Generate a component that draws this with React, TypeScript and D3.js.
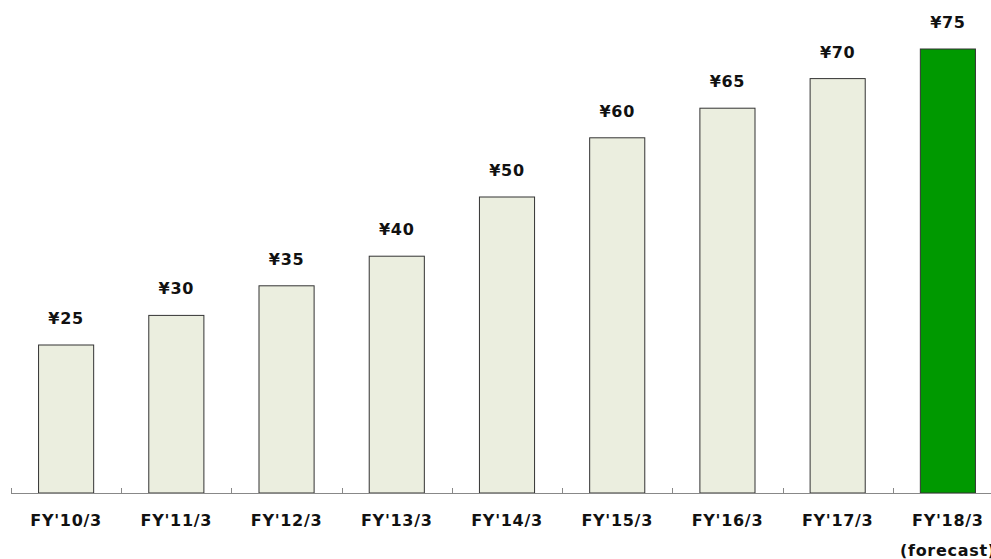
import React from "react";
import * as d3 from "d3";

const categories = ["FY'10/3", "FY'11/3", "FY'12/3", "FY'13/3", "FY'14/3", "FY'15/3", "FY'16/3", "FY'17/3", "FY'18/3"];
const dividends = [25, 30, 35, 40, 50, 60, 65, 70, 75];
const forecastFlags = [false, false, false, false, false, false, false, false, true];

const W = 991;
const H = 559;
const FONT = "'DejaVu Sans', Verdana, sans-serif";

export default function App() {
  const baseY = 493;
  const x = d3.scaleBand<string>().domain(categories).range([11, 1003]).paddingInner(0.5).paddingOuter(0.25);
  const step = x.step();
  const y = d3.scaleLinear().domain([0, 75]).range([baseY, 49]);
  const tickXs = categories.map((c) => x(c)! + x.bandwidth() / 2 - step / 2);

  const textProps = {
    textAnchor: "middle" as const,
    fontFamily: FONT,
    fontWeight: "bold",
    fontSize: 16,
    letterSpacing: 0.7,
    fill: "#111",
  };

  return (
    <svg width={W} height={H} style={{ position: "absolute", left: 0, top: 0, background: "#fff" }}>
      {categories.map((c, i) => (
        <rect
          key={c}
          x={x(c)!}
          y={y(dividends[i])}
          width={x.bandwidth()}
          height={baseY - y(dividends[i])}
          fill={forecastFlags[i] ? "#009900" : "#EBEEDF"}
          stroke="#333"
          strokeWidth={1}
        />
      ))}
      <line x1={tickXs[0]} x2={W} y1={baseY + 0.5} y2={baseY + 0.5} stroke="#888" strokeWidth={1} />
      {tickXs.map((tx, i) => (
        <line key={i} x1={Math.round(tx) + 0.5} x2={Math.round(tx) + 0.5} y1={baseY - 5} y2={baseY} stroke="#888" strokeWidth={1} />
      ))}
      {categories.map((c, i) => (
        <text key={"v" + c} x={x(c)! + x.bandwidth() / 2} y={y(dividends[i]) - 21} {...textProps}>
          {"¥" + dividends[i]}
        </text>
      ))}
      {categories.map((c) => (
        <text key={"c" + c} x={x(c)! + x.bandwidth() / 2} y={526} {...textProps}>
          {c}
        </text>
      ))}
      {categories.map((c, i) =>
        forecastFlags[i] ? (
          <text key={"f" + c} x={x(c)! + x.bandwidth() / 2} y={556} {...textProps}>
            (forecast)
          </text>
        ) : null
      )}
    </svg>
  );
}
